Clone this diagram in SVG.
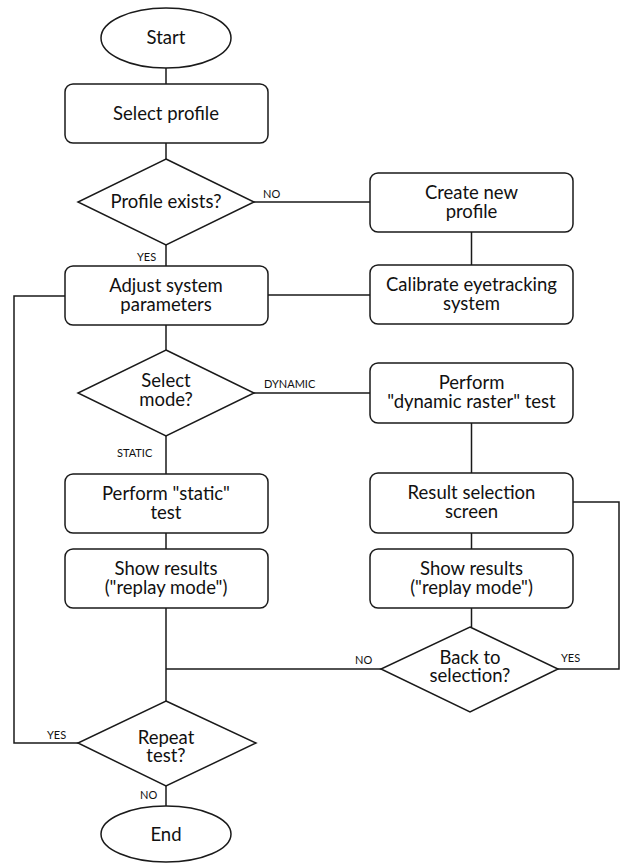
<svg xmlns="http://www.w3.org/2000/svg" width="620" height="864" viewBox="0 0 620 864">
<style>
.s{fill:#fff;stroke:#1a1a1a;stroke-width:1.5}
.c{fill:none;stroke:#1a1a1a;stroke-width:1.5}
.t{font-family:Lato,"Open Sans","Liberation Sans",sans-serif;font-size:18.5px;fill:#111;text-anchor:middle}
.l{font-family:Lato,"Open Sans","Liberation Sans",sans-serif;font-size:11px;fill:#111}
</style>
<rect width="620" height="864" fill="#fff"/>
<g id="connectors">
<path class="c" d="M166 68V84M166 143V159M166 245V266M254 202H370M471.5 232V265M268 295H370M166 325V350M254 393H370M471.5 423V473M166 436V474M166 533V549M166 608V701M471.5 533V549M471.5 608V627M381 669H166M558 669H619V502H573M78 743H14V296H65M166 786V806"/>
<text class="l" x="263" y="198">NO</text>
<text class="l" x="137" y="261">YES</text>
<text class="l" x="264" y="388">DYNAMIC</text>
<text class="l" x="117" y="457">STATIC</text>
<text class="l" x="355" y="664">NO</text>
<text class="l" x="561" y="662">YES</text>
<text class="l" x="47" y="739">YES</text>
<text class="l" x="140" y="799">NO</text>
</g>
<g id="start"><ellipse class="s" cx="166" cy="38" rx="65" ry="30"/><text class="t" x="166" y="44">Start</text></g>
<g id="select-profile"><rect class="s" x="65" y="84" width="203" height="59" rx="8"/><text class="t" x="166" y="120">Select profile</text></g>
<g id="profile-exists"><polygon class="s" points="166,159 254,202 166,245 78,202"/><text class="t" x="166" y="208">Profile exists?</text></g>
<g id="create-profile"><rect class="s" x="370" y="173" width="203" height="59" rx="8"/><text class="t" x="471.5" y="199">Create new</text><text class="t" x="471.5" y="218">profile</text></g>
<g id="adjust"><rect class="s" x="65" y="266" width="203" height="59" rx="8"/><text class="t" x="166" y="292">Adjust system</text><text class="t" x="166" y="311">parameters</text></g>
<g id="calibrate"><rect class="s" x="370" y="265" width="203" height="59" rx="8"/><text class="t" x="471.5" y="291">Calibrate eyetracking</text><text class="t" x="471.5" y="310">system</text></g>
<g id="select-mode"><polygon class="s" points="166,350 254,393 166,436 78,393"/><text class="t" x="166" y="387">Select</text><text class="t" x="166" y="406">mode?</text></g>
<g id="dynamic-test"><rect class="s" x="370" y="363" width="203" height="60" rx="8"/><text class="t" x="471.5" y="389">Perform</text><text class="t" x="471.5" y="408">"dynamic raster" test</text></g>
<g id="static-test"><rect class="s" x="65" y="474" width="203" height="59" rx="8"/><text class="t" x="166" y="500">Perform "static"</text><text class="t" x="166" y="519">test</text></g>
<g id="result-selection"><rect class="s" x="370" y="473" width="203" height="60" rx="8"/><text class="t" x="471.5" y="499">Result selection</text><text class="t" x="471.5" y="518">screen</text></g>
<g id="show-results-left"><rect class="s" x="65" y="549" width="203" height="59" rx="8"/><text class="t" x="166" y="575">Show results</text><text class="t" x="166" y="594">("replay mode")</text></g>
<g id="show-results-right"><rect class="s" x="370" y="549" width="203" height="59" rx="8"/><text class="t" x="471.5" y="575">Show results</text><text class="t" x="471.5" y="594">("replay mode")</text></g>
<g id="back-to-selection"><polygon class="s" points="470,627 558,669 470,712 381,669"/><text class="t" x="470" y="664">Back to</text><text class="t" x="470" y="682">selection?</text></g>
<g id="repeat-test"><polygon class="s" points="166,701 256,743 166,786 78,743"/><text class="t" x="166" y="744">Repeat</text><text class="t" x="166" y="762">test?</text></g>
<g id="end"><ellipse class="s" cx="166" cy="834" rx="65" ry="28"/><text class="t" x="166" y="841">End</text></g>
</svg>
